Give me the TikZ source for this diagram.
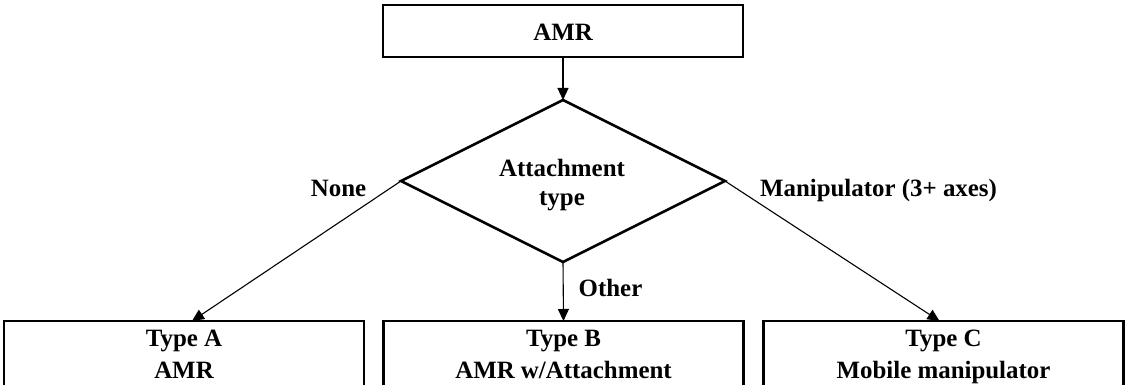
\documentclass[tikz,border=0pt]{standalone}
\usepackage{fontspec}
\setmainfont{Liberation Serif}
\usetikzlibrary{shapes.geometric,arrows.meta,calc}

\tikzset{
  lbl/.style={font=\fontsize{24.9}{29}\selectfont\bfseries, inner sep=0pt, anchor=base},
  box/.style={draw, line width=2.4pt, rectangle, inner sep=0pt, outer sep=0pt,
              minimum width=360pt},
  decision/.style={draw, line width=2.6pt, diamond, inner sep=0pt, outer sep=0pt,
                   minimum width=324pt, minimum height=162pt},
  conn/.style={line width=1.1pt, -{Triangle[length=12pt,width=11pt]}}
}

\begin{document}
\begin{tikzpicture}[x=1pt, y=-1pt]
  \useasboundingbox (0,0) rectangle (1126,385);
  \clip (0,0) rectangle (1126,385);

  % root
  \node[box, minimum height=52pt, text height=20pt, text depth=0pt,
        font=\fontsize{24.9}{29}\selectfont\bfseries] (amr) at (563,31) {AMR};

  % decision
  \node[decision] (diam) at (563,181) {};
  \node[lbl] (dq1) at (562,176) {Attachment};
  \node[lbl] (dq2) at (562,205) {type};

  % outcome boxes
  \node[box, minimum height=90pt, anchor=north] (typeA) at (184,321) {};
  \node[box, minimum height=90pt, anchor=north] (typeB) at (563.5,321) {};
  \node[box, minimum height=90pt, anchor=north] (typeC) at (943.5,321) {};

  \node[lbl] (ta1) at (184,346) {Type A};
  \node[lbl] (ta2) at (184,378) {AMR};
  \node[lbl] (tb1) at (563.5,346) {Type B};
  \node[lbl] (tb2) at (563.5,378) {AMR w/Attachment};
  \node[lbl] (tc1) at (943.5,346) {Type C};
  \node[lbl] (tc2) at (943.5,378) {Mobile manipulator};

  % connectors
  \draw[conn] (amr.south) -- (diam.north);
  \draw[conn] (diam.west) -- ($(typeA.north)+(8,0)$);
  \draw[conn] (diam.south) -- (typeB.north);
  \draw[conn] (diam.east) -- ($(typeC.north)+(-4,0)$);

  % branch labels
  \node[lbl] (lnone) at (338.5,196) {None};
  \node[lbl] (lother) at (610.5,296) {Other};
  \node[lbl] (lmanip) at (878.5,196) {Manipulator (3+ axes)};
\end{tikzpicture}
\end{document}
